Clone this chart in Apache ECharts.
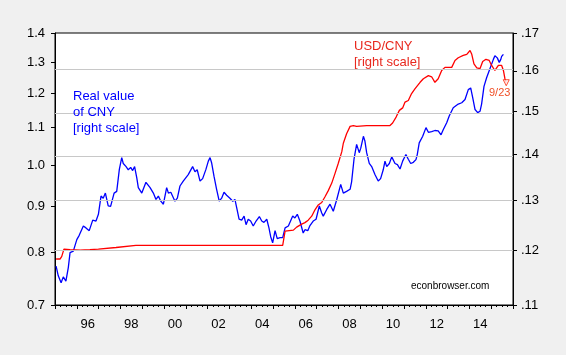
<!DOCTYPE html>
<html><head><meta charset="utf-8">
<script src="https://cdn.jsdelivr.net/npm/echarts@6/dist/echarts.min.js"></script>
<style>html,body{margin:0;padding:0;background:#f0f0f0}#c{width:566px;height:355px}</style>
</head><body><div id="c"></div>
<script>
// Real value of CNY (left scale, log) — decimal year and value
const blueT = [1995.05,1995.15,1995.28,1995.38,1995.50,1995.61,1995.69,1995.84,1996.00,1996.11,1996.30,1996.42,1996.57,1996.73,1996.88,1996.99,1997.11,1997.21,1997.31,1997.44,1997.55,1997.71,1997.83,1997.95,1998.06,1998.13,1998.26,1998.36,1998.47,1998.56,1998.65,1998.75,1998.82,1998.98,1999.17,1999.36,1999.51,1999.63,1999.74,1999.85,1999.97,2000.12,2000.20,2000.31,2000.40,2000.50,2000.61,2000.73,2000.88,2001.11,2001.31,2001.42,2001.52,2001.65,2001.77,2001.92,2002.03,2002.11,2002.18,2002.29,2002.41,2002.53,2002.64,2002.75,2002.87,2003.02,2003.15,2003.25,2003.33,2003.44,2003.56,2003.67,2003.76,2003.86,2003.97,2004.09,2004.22,2004.37,2004.48,2004.58,2004.71,2004.81,2004.89,2004.98,2005.09,2005.19,2005.32,2005.44,2005.55,2005.70,2005.90,2006.00,2006.11,2006.23,2006.38,2006.46,2006.59,2006.69,2006.84,2006.97,2007.12,2007.23,2007.30,2007.46,2007.61,2007.76,2007.92,2008.10,2008.22,2008.37,2008.53,2008.60,2008.71,2008.83,2008.95,2009.02,2009.14,2009.21,2009.29,2009.41,2009.52,2009.67,2009.82,2009.93,2010.05,2010.13,2010.21,2010.33,2010.44,2010.59,2010.70,2010.82,2010.94,2011.09,2011.20,2011.31,2011.43,2011.55,2011.61,2011.70,2011.86,2012.01,2012.12,2012.27,2012.42,2012.57,2012.70,2012.80,2012.96,2013.08,2013.26,2013.49,2013.65,2013.80,2013.95,2014.06,2014.15,2014.26,2014.38,2014.49,2014.56,2014.67,2014.79,2014.95,2015.10,2015.17,2015.28,2015.37,2015.44,2015.48,2015.56];
const blueV = [0.773,0.754,0.741,0.752,0.744,0.770,0.800,0.803,0.827,0.836,0.856,0.852,0.846,0.869,0.867,0.882,0.924,0.919,0.931,0.901,0.900,0.931,0.935,0.989,1.019,1.004,0.996,0.988,0.994,0.986,0.996,0.968,0.944,0.931,0.957,0.944,0.931,0.916,0.924,0.912,0.905,0.944,0.931,0.933,0.929,0.912,0.919,0.948,0.960,0.976,0.996,0.983,0.988,0.960,0.966,0.989,1.010,1.019,1.006,0.972,0.940,0.912,0.919,0.933,0.926,0.919,0.912,0.916,0.897,0.871,0.869,0.878,0.859,0.871,0.867,0.856,0.867,0.877,0.867,0.864,0.871,0.852,0.833,0.820,0.846,0.829,0.831,0.831,0.852,0.856,0.878,0.874,0.882,0.867,0.841,0.848,0.846,0.857,0.867,0.871,0.901,0.885,0.878,0.893,0.905,0.889,0.916,0.952,0.931,0.935,0.940,0.958,1.015,1.054,1.032,1.044,1.076,1.063,1.032,1.004,0.996,0.976,0.960,0.966,0.988,1.010,0.996,1.004,1.021,1.004,1.001,0.990,1.010,1.027,1.015,1.004,1.007,1.014,1.027,1.058,1.076,1.100,1.087,1.089,1.092,1.091,1.080,1.094,1.114,1.134,1.157,1.168,1.172,1.182,1.212,1.217,1.188,1.152,1.143,1.147,1.168,1.222,1.249,1.280,1.309,1.321,1.314,1.299,1.309,1.319,1.326];
// USD/CNY (right scale, log)
const redT = [1995.05,1995.23,1995.31,1995.41,1995.69,1996.15,1996.60,1996.99,1997.80,1998.71,2005.44,2005.55,2005.62,2005.93,2006.08,2006.31,2006.46,2006.61,2006.77,2006.92,2007.07,2007.23,2007.38,2007.53,2007.69,2007.84,2007.99,2008.15,2008.22,2008.37,2008.53,2008.68,2008.83,2009.29,2010.36,2010.48,2010.64,2010.79,2010.94,2011.05,2011.20,2011.35,2011.51,2011.74,2011.89,2012.12,2012.27,2012.42,2012.57,2012.73,2012.88,2013.19,2013.34,2013.49,2013.72,2013.88,2014.03,2014.11,2014.21,2014.34,2014.49,2014.61,2014.76,2014.91,2015.02,2015.17,2015.33,2015.48,2015.56,2015.63];
const redV = [0.1184,0.1184,0.1189,0.1203,0.1202,0.1201,0.1202,0.1203,0.1206,0.1210,0.1210,0.1238,0.1239,0.1240,0.1246,0.1252,0.1255,0.1260,0.1268,0.1281,0.1291,0.1296,0.1308,0.1321,0.1337,0.1358,0.1380,0.1406,0.1425,0.1447,0.1464,0.1466,0.1464,0.1466,0.1466,0.1472,0.1486,0.1502,0.1508,0.1522,0.1526,0.1543,0.1555,0.1571,0.1580,0.1588,0.1585,0.1571,0.1580,0.1601,0.1609,0.1609,0.1627,0.1634,0.1640,0.1643,0.1653,0.1643,0.1618,0.1608,0.1606,0.1624,0.1630,0.1627,0.1614,0.1601,0.1614,0.1614,0.1601,0.1580];
// latest daily observation
const lastT = 2015.69;
const lastV = 0.1570;
const lastLabel = '9/23';
// axis ticks
const leftTicks = [0.7,0.8,0.9,1.0,1.1,1.2,1.3,1.4];
const rightTicks = [0.11,0.12,0.13,0.14,0.15,0.16,0.17];
const gridVals = [0.12,0.13,0.14,0.15,0.16];
const yearTicks = []; for (let y = 1995; y <= 2016; y++) yearTicks.push(y);
const quarterTicks = []; for (let q = 1995; q < 2016; q += 0.25) quarterTicks.push(q);
const yearLabels = [1996,1998,2000,2002,2004,2006,2008,2010,2012,2014];

const L = Math.log;
const FONT = '"Liberation Sans", Arial, sans-serif';
const chart = echarts.init(document.getElementById('c'), null, {renderer: 'canvas'});
chart.setOption({
  animation: false,
  backgroundColor: '#f0f0f0',
  grid: {left: 55, right: 53, top: 33, bottom: 50, show: true, backgroundColor: '#ffffff', borderColor: '#000', borderWidth: 1},
  xAxis: [{
    type: 'value', min: 1995, max: 2016, position: 'bottom',
    axisLine: {show: true, onZero: false, lineStyle: {color: '#000', width: 1}},
    axisTick: {show: true, customValues: yearTicks, length: 4, inside: false, lineStyle: {color: '#000'}},
    axisLabel: {customValues: yearLabels.map(y => y + 0.5), formatter: v => String(Math.floor(v)).slice(2), color: '#000', fontFamily: FONT, fontSize: 13, margin: 13},
    splitLine: {show: false}
  }, {
    type: 'value', min: 1995, max: 2016, position: 'bottom',
    axisLine: {show: false, onZero: false},
    axisTick: {show: true, customValues: quarterTicks, length: 2, lineStyle: {color: '#000'}},
    axisLabel: {show: false},
    splitLine: {show: false}
  }],
  yAxis: [{
    type: 'value', min: L(0.7), max: L(1.4), position: 'left',
    axisLine: {show: true, onZero: false, lineStyle: {color: '#000'}},
    axisTick: {show: true, customValues: leftTicks.map(L), length: 4, lineStyle: {color: '#000'}},
    axisLabel: {customValues: leftTicks.map(L), formatter: v => Math.exp(v).toFixed(1), color: '#000', fontFamily: FONT, fontSize: 13, margin: 10},
    splitLine: {show: false}
  }, {
    type: 'value', min: L(0.11), max: L(0.17), position: 'right',
    axisLine: {show: true, onZero: false, lineStyle: {color: '#000'}},
    axisTick: {show: true, customValues: rightTicks.map(L), length: 4, lineStyle: {color: '#000'}},
    axisLabel: {customValues: rightTicks.map(L), formatter: v => '.' + Math.round(Math.exp(v) * 100), color: '#000', fontFamily: FONT, fontSize: 13, margin: 8},
    splitLine: {show: false}
  }],
  series: [{
    type: 'line', yAxisIndex: 1, z: 1, silent: true, showSymbol: false,
    data: redT.map((t, i) => [t, L(redV[i])]),
    lineStyle: {opacity: 0},
    markLine: {silent: true, symbol: 'none', label: {show: false}, animation: false,
      lineStyle: {color: '#c8c8c8', type: 'solid', width: 1},
      data: gridVals.map(v => ({yAxis: L(v)}))}
  }, {
    name: 'Real value of CNY', type: 'line', yAxisIndex: 0, z: 3, showSymbol: false,
    data: blueT.map((t, i) => [t, L(blueV[i])]),
    lineStyle: {color: '#0000ff', width: 1.3}
  }, {
    name: 'USD/CNY', type: 'line', yAxisIndex: 1, z: 4, showSymbol: false,
    data: redT.map((t, i) => [t, L(redV[i])]).concat([[lastT, L(lastV)]]),
    lineStyle: {color: '#ff0000', width: 1.3}
  }, {
    type: 'scatter', yAxisIndex: 1, z: 5,
    data: [[lastT, L(lastV)]],
    symbol: 'triangle', symbolRotate: 180, symbolSize: 6,
    itemStyle: {color: '#ffffff', borderColor: '#ff2000', borderWidth: 1}
  }],
  graphic: [
    {type: 'text', left: 73, top: 88, z: 10, style: {text: 'Real value\nof CNY\n[right scale]', fill: '#0000ff', font: '13px ' + FONT, lineHeight: 16}},
    {type: 'text', left: 354, top: 38, z: 10, style: {text: 'USD/CNY\n[right scale]', fill: '#e8281e', font: '13px ' + FONT, lineHeight: 16}},
    {type: 'text', left: 489, top: 87, z: 10, style: {text: lastLabel, fill: '#f05028', font: '11px ' + FONT}},
    {type: 'text', left: 411, top: 281, z: 10, style: {text: 'econbrowser.com', fill: '#000', font: '10px ' + FONT}}
  ]
});
</script></body></html>
